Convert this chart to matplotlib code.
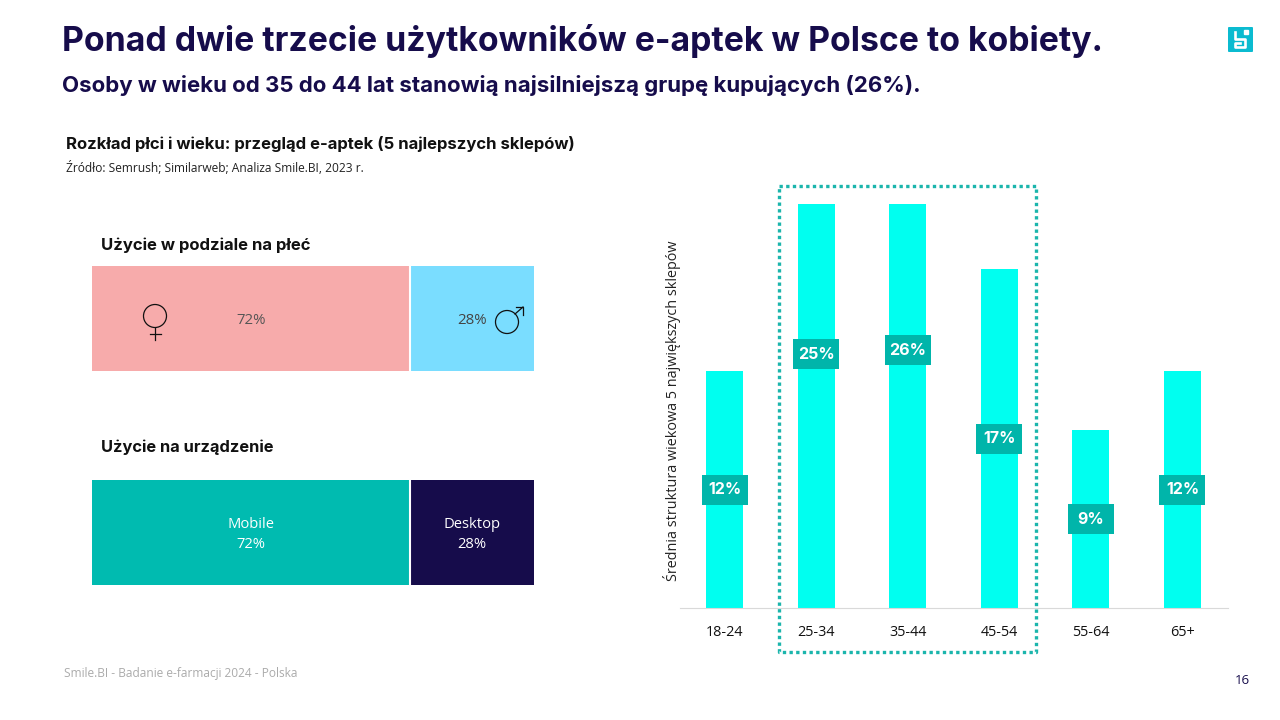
import matplotlib
matplotlib.use("Agg")
import matplotlib.pyplot as plt
import numpy as np
from matplotlib.patches import Circle, FancyBboxPatch

# Chart data
gender_values = [72, 28]
device_values = [72, 28]
device_names = ["Mobile", "Desktop"]
age_groups = ["18-24", "25-34", "35-44", "45-54", "55-64", "65+"]
# 25-34 and 35-44 run past the top of the axis, as in the source chart
age_shares = [12.0, 25.7, 26.1, 17.16, 9.0, 12.0]
age_labels = ["12%", "25%", "26%", "17%", "9%", "12%"]

NAVY = "#160C4B"
TEAL = "#00BBB0"
LABEL_TEAL = "#00B5AA"
CYAN = "#00FFF0"
PINK = "#F7ABAB"
SKY = "#7ADDFF"
BODY_FONT = "Open Sans"
HEAD_FONT = "Inter"
W, H = 1280, 720


def px_axes(fig, left, top, right, bottom):
    """Add axes from pixel coordinates measured from the top left corner."""
    return fig.add_axes([left / W, 1 - bottom / H, (right - left) / W, (bottom - top) / H])


def stacked_bar(fig, top, values, colors):
    """Draw one full width stacked bar, scaled 0-100."""
    ax = px_axes(fig, 92, top, 534, top + 105)
    left = 0
    for value, color in zip(values, colors):
        ax.barh(0, value, left=left, height=1, color=color)
        left += value
    ax.axvline(values[0], color="white", lw=1.5)
    ax.set_xlim(0, 100)
    ax.set_ylim(-0.5, 0.5)
    ax.axis("off")
    return ax


def draw_gender_icons(ax):
    ax.add_patch(Circle((155, 316), 11.5, fill=False, ec="#111111", lw=0.9))
    ax.plot([155, 155], [327.5, 340], color="#111111", lw=0.9)
    ax.plot([150, 161], [334, 334], color="#111111", lw=0.9)
    ax.add_patch(Circle((507, 322), 11.5, fill=False, ec="#111111", lw=0.9))
    ax.plot([515, 523], [314, 307], color="#111111", lw=0.9)
    ax.plot([516, 523, 523], [307, 307, 315], color="#111111", lw=0.9)


def draw_logo(ax):
    ax.add_patch(FancyBboxPatch((1228, 27), 25, 25, boxstyle="round,pad=0,rounding_size=1", fc="#0BBBD0", ec="none"))
    ax.plot([1235, 1235, 1245, 1245, 1235, 1235, 1240], [32, 39, 39, 47, 47, 43, 43], color="white", lw=1.9)
    ax.plot([1246], [32], marker="s", ms=2.2, color="white")


fig = plt.figure(figsize=(W / 100, H / 100), dpi=100, facecolor="white")

# Overlay for titles, icons and the highlight frame, in pixel coordinates
overlay = fig.add_axes([0, 0, 1, 1], zorder=5)
overlay.set_xlim(0, W)
overlay.set_ylim(H, 0)
overlay.axis("off")
overlay.patch.set_alpha(0)

overlay.text(62, 41, "Ponad dwie trzecie użytkowników e-aptek w Polsce to kobiety.", fontsize=24.3,
             fontweight="bold", family=HEAD_FONT, color=NAVY, va="center")
overlay.text(62, 85, "Osoby w wieku od 35 do 44 lat stanowią najsilniejszą grupę kupujących (26%).", fontsize=16,
             fontweight="bold", family=HEAD_FONT, color=NAVY, va="center")
overlay.text(66, 144, "Rozkład płci i wieku: przegląd e-aptek (5 najlepszych sklepów)", fontsize=12,
             fontweight="bold", family=HEAD_FONT, color="#111111", va="center")
overlay.text(66, 168, "Źródło: Semrush; Similarweb; Analiza Smile.BI, 2023 r.", fontsize=8.65,
             family=BODY_FONT, color="#222222", va="center")
overlay.text(101, 245, "Użycie w podziale na płeć", fontsize=12, fontweight="bold", family=HEAD_FONT,
             color="#111111", va="center")
overlay.text(101, 447, "Użycie na urządzenie", fontsize=11.8, fontweight="bold", family=HEAD_FONT,
             color="#111111", va="center")
overlay.text(64, 674, "Smile.BI - Badanie e-farmacji 2024 - Polska", fontsize=8.6, family=BODY_FONT,
             color="#ABABAB", va="center")
overlay.text(1242, 680, "16", fontsize=9.5, family=BODY_FONT, color=NAVY, ha="center", va="center")

draw_gender_icons(overlay)
draw_logo(overlay)
overlay.plot([779, 1036, 1036, 779, 779], [186, 186, 652, 652, 186], color="#1BB5AC", lw=2.4,
             linestyle=(0, (1, 1)), zorder=6)

# Gender split
gender_ax = stacked_bar(fig, 266, gender_values, [PINK, SKY])
gender_ax.text(36, -0.02, f"{gender_values[0]}%", fontsize=10.8, family=BODY_FONT, color="#555555", ha="center", va="center")
gender_ax.text(86, -0.02, f"{gender_values[1]}%", fontsize=10.8, family=BODY_FONT, color="#444444", ha="center", va="center")

# Device split
device_ax = stacked_bar(fig, 480, device_values, [TEAL, NAVY])
device_ax.text(36, -0.02, f"{device_names[0]}\n{device_values[0]}%", fontsize=10.6, family=BODY_FONT, color="white",
               ha="center", va="center", linespacing=1.42)
device_ax.text(86, -0.02, f"{device_names[1]}\n{device_values[1]}%", fontsize=10.6, family=BODY_FONT, color="white",
               ha="center", va="center", linespacing=1.42)

# Age structure
age_ax = px_axes(fig, 680, 204, 1228, 608)
x = np.arange(len(age_groups))
age_ax.bar(x, age_shares, width=0.404, color=CYAN)
age_ax.set_xlim(-0.486, 5.497)
age_ax.set_ylim(0, 20.46)
label_height = 30 * 20.46 / 404
for xi, share, label in zip(x, age_shares, age_labels):
    age_ax.bar(xi, label_height, bottom=share / 2 - label_height / 2, width=0.502, color=LABEL_TEAL, zorder=3)
    age_ax.text(xi, share / 2, label, fontsize=11.5, fontweight="bold", family=HEAD_FONT, color="white",
                ha="center", va="center", zorder=4)
age_ax.set_xticks(x, age_groups, fontsize=10.4, family=BODY_FONT, color="#111111")
age_ax.tick_params(axis="x", length=0, pad=12)
age_ax.set_yticks([])
age_ax.set_ylabel("Średnia struktura wiekowa 5 największych sklepów", fontsize=10.4, family=BODY_FONT, color="#222222",
                  labelpad=-1, y=0.4876)
for side in ["top", "right", "left"]:
    age_ax.spines[side].set_visible(False)
age_ax.spines["bottom"].set_color("#D9D9D9")

fig.savefig("out.png", dpi=100)
